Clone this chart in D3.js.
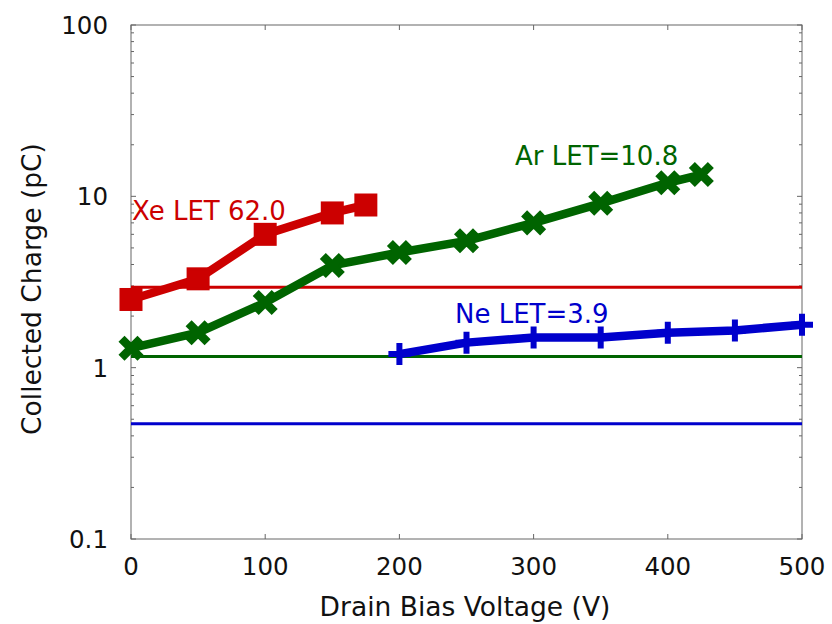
<!DOCTYPE html>
<html><head><meta charset="utf-8">
<script src="https://cdn.jsdelivr.net/npm/d3@7"></script>
<style>body{margin:0;background:#fff}svg{display:block}text{font-family:"DejaVu Sans",sans-serif}</style>
</head><body><svg id="c" width="832" height="624"></svg>
<script>
const xTicks = [0,100,200,300,400,500];
const yTicks = [0.1,1,10,100];
const yTickLabels = ["0.1","1","10","100"];
const xeV = [0,50,100,150,175];
const xeQ = [2.5,3.3,6.0,8.0,8.9];
const arV = [0,50,100,150,200,250,300,350,400,425];
const arQ = [1.3,1.6,2.4,3.95,4.7,5.5,7.0,9.1,12.0,13.4];
const neV = [200,250,300,350,400,450,500];
const neQ = [1.2,1.4,1.5,1.5,1.6,1.65,1.78];
const thresholds = [2.95,1.16,0.47];
const names = ["Xe LET 62.0","Ar LET=10.8","Ne LET=3.9"];
const colors = ["#cc0000","#006400","#0000cc"];

const svg = d3.select("#c");
const L=131,R=802,T=25,B=539;
const x = d3.scaleLinear().domain([0,500]).range([L,R]);
const y = d3.scaleLog().domain([0.1,100]).range([B,T]);

svg.append("rect").attr("x",L).attr("y",T).attr("width",R-L).attr("height",B-T)
  .attr("fill","none").attr("stroke","#666").attr("stroke-width",1);

xTicks.forEach(v=>{
  svg.append("line").attr("x1",x(v)).attr("x2",x(v)).attr("y1",B).attr("y2",B-5).attr("stroke","#666");
  svg.append("line").attr("x1",x(v)).attr("x2",x(v)).attr("y1",T).attr("y2",T+5).attr("stroke","#666");
});
const minor=[];
for(let d=0.1; d<100; d*=10){ for(let k=1;k<10;k++) minor.push(d*k); }
minor.push(100);
minor.forEach(v=>{
  const major = yTicks.some(t=>Math.abs(t-v)/v<1e-6);
  const len = major?5:3;
  svg.append("line").attr("x1",L).attr("x2",L+len).attr("y1",y(v)).attr("y2",y(v)).attr("stroke","#666");
  svg.append("line").attr("x1",R).attr("x2",R-len).attr("y1",y(v)).attr("y2",y(v)).attr("stroke","#666");
});

xTicks.forEach(v=>{
  svg.append("text").attr("x",x(v)).attr("y",575).attr("text-anchor","middle")
    .attr("font-size",24.5).attr("fill","#111").text(v);
});
yTicks.forEach((v,i)=>{
  svg.append("text").attr("x",108).attr("y",y(v)+9).attr("text-anchor","end")
    .attr("font-size",24.5).attr("fill","#111").text(yTickLabels[i]);
});

svg.append("text").attr("x",465).attr("y",616).attr("text-anchor","middle")
  .attr("font-size",26.5).attr("fill","#111").text("Drain Bias Voltage (V)");
svg.append("text").attr("transform","translate(41,289) rotate(-90)").attr("text-anchor","middle")
  .attr("font-size",26.5).attr("fill","#111").text("Collected Charge (pC)");

thresholds.forEach((t,i)=>{
  svg.append("line").attr("x1",L).attr("x2",R).attr("y1",y(t)).attr("y2",y(t))
    .attr("stroke",colors[i]).attr("stroke-width",3);
});

const line = d3.line().x(d=>x(d[0])).y(d=>y(d[1]));
const series = [
  {v:xeV,q:xeQ,c:colors[0],m:"square"},
  {v:arV,q:arQ,c:colors[1],m:"cross"},
  {v:neV,q:neQ,c:colors[2],m:"plus"}
];
series.forEach(s=>{
  const pts = s.v.map((v,i)=>[v,s.q[i]]);
  svg.append("path").attr("d",line(pts)).attr("fill","none").attr("stroke",s.c)
    .attr("stroke-width",8.5).attr("stroke-linejoin","round");
  pts.forEach(p=>{
    const cx=x(p[0]), cy=y(p[1]);
    if(s.m==="square"){
      svg.append("rect").attr("x",cx-10).attr("y",cy-10).attr("width",20).attr("height",20)
        .attr("fill",s.c).attr("stroke",s.c).attr("stroke-width",3);
    } else if(s.m==="cross"){
      const r=9.5;
      svg.append("path").attr("d",`M${cx-r},${cy-r}L${cx+r},${cy+r}M${cx-r},${cy+r}L${cx+r},${cy-r}`)
        .attr("stroke",s.c).attr("stroke-width",8.5);
    } else {
      const r=11;
      svg.append("path").attr("d",`M${cx-r},${cy}L${cx+r},${cy}M${cx},${cy-r}L${cx},${cy+r}`)
        .attr("stroke",s.c).attr("stroke-width",6);
    }
  });
});

const ann = [[132,220],[515,165],[455,323]];
names.forEach((n,i)=>{
  svg.append("text").attr("x",ann[i][0]).attr("y",ann[i][1]).attr("font-size",26)
    .attr("fill",colors[i]).text(n);
});
</script></body></html>
